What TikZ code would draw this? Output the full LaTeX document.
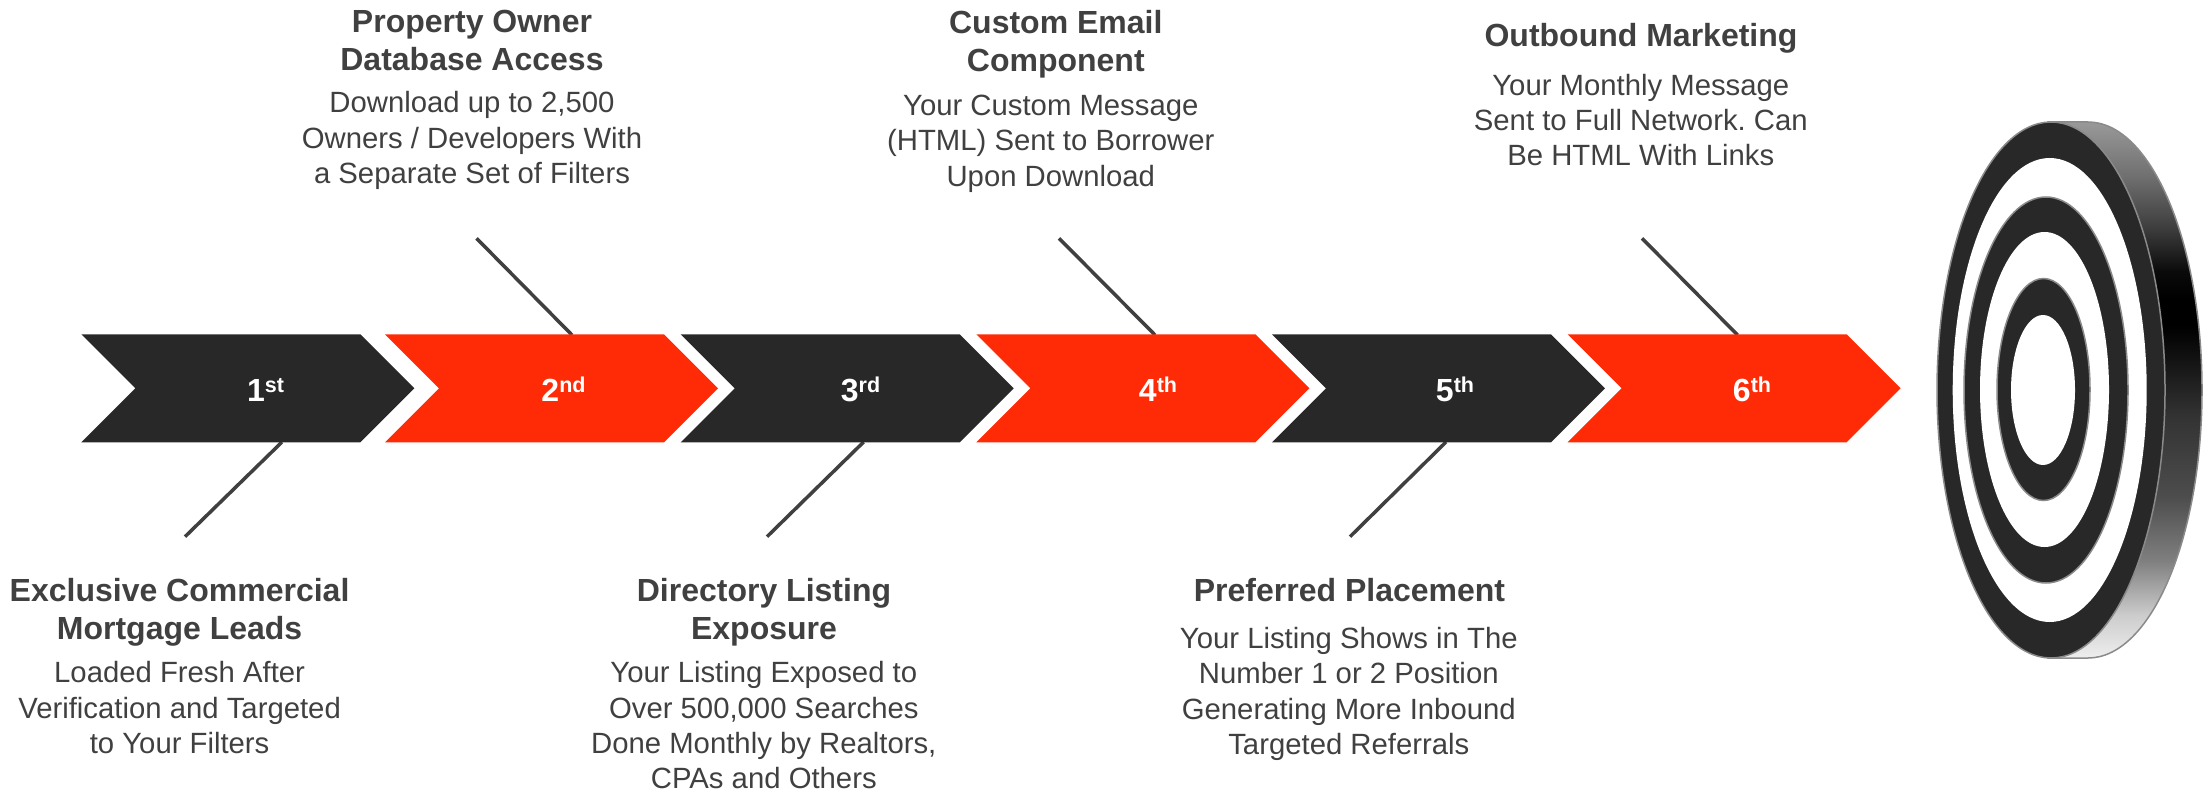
\documentclass[tikz,border=0pt]{standalone}
\usepackage{fontspec}
\setmainfont{Liberation Sans}
\definecolor{dk}{HTML}{282828}
\definecolor{rd}{HTML}{FF2A06}
\definecolor{tx}{HTML}{404040}
\definecolor{rim}{HTML}{8A8A8A}
\definecolor{ga}{HTML}{999999}
\definecolor{gb}{HTML}{707070}
\definecolor{gc}{HTML}{3C3C3C}
\definecolor{gd}{HTML}{0A0A0A}
\definecolor{ge}{HTML}{000000}
\definecolor{gf}{HTML}{333333}
\definecolor{gg}{HTML}{4D4D4D}
\definecolor{gh}{HTML}{808080}
\definecolor{gi}{HTML}{CCCCCC}
\definecolor{gj}{HTML}{EEEEEE}
\newcommand{\sss}[1]{\raisebox{9pt}{\fontsize{21.5}{21.5}\selectfont #1}}
\tikzset{
 x=1pt,y=-1pt,
 numlabel/.style={text=white,font=\fontsize{32}{32}\selectfont\bfseries,anchor=base,inner sep=0pt},
 headtext/.style={text=tx,font=\fontsize{32}{38}\selectfont\bfseries\frenchspacing,align=center,anchor=north,inner sep=0pt},
 bodytext/.style={text=tx,font=\fontsize{29.3}{35.2}\selectfont\frenchspacing,align=center,anchor=north,inner sep=0pt},
 leader/.style={draw=tx,line width=3.5pt},
 ringdark/.style={fill=dk,draw=rim,line width=1.5pt},
 ringwhite/.style={fill=white},
}
\newcommand{\hs}{\rule{0pt}{22pt}}
\newcommand{\bandpath}{(2088,122) arc [start angle=-90,end angle=90,x radius=114,y radius=268] -- (2048,658) -- (2048,122) -- cycle}
\begin{document}
\begin{tikzpicture}
\useasboundingbox (0,0) rectangle (2208,794);
% connectors (under the arrows)
\coordinate (a1) at (282,442); \coordinate (e1) at (185,536.7);
\coordinate (a2) at (572,335); \coordinate (e2) at (476.5,238.3);
\coordinate (a3) at (863.6,442); \coordinate (e3) at (767,536.7);
\coordinate (a4) at (1155,335); \coordinate (e4) at (1059,238.3);
\coordinate (a5) at (1446,442); \coordinate (e5) at (1350,536.7);
\coordinate (a6) at (1737.5,335); \coordinate (e6) at (1642,238.3);
\foreach \i in {1,...,6} \draw[leader] (a\i) -- (e\i);
% arrows
\fill[dk] (81.4,334.3) -- (360.4,334.3) -- (414.4,388.3) -- (360.4,442.3) -- (81.4,442.3) -- (135.4,388.3) -- cycle;
\fill[rd] (385,334.3) -- (664,334.3) -- (718,388.3) -- (664,442.3) -- (385,442.3) -- (439,388.3) -- cycle;
\fill[dk] (680.7,334.3) -- (959.7,334.3) -- (1013.7,388.3) -- (959.7,442.3) -- (680.7,442.3) -- (734.7,388.3) -- cycle;
\fill[rd] (976.4,334.3) -- (1255.4,334.3) -- (1309.4,388.3) -- (1255.4,442.3) -- (976.4,442.3) -- (1030.4,388.3) -- cycle;
\fill[dk] (1272,334.3) -- (1551,334.3) -- (1605,388.3) -- (1551,442.3) -- (1272,442.3) -- (1326,388.3) -- cycle;
\fill[rd] (1567.6,334.3) -- (1846.6,334.3) -- (1900.6,388.3) -- (1846.6,442.3) -- (1567.6,442.3) -- (1621.6,388.3) -- cycle;
\node[numlabel] (n1) at (265.5,401.7) {1\sss{st}};
\node[numlabel] (n2) at (563.5,401.7) {2\sss{nd}};
\node[numlabel] (n3) at (860.5,401.7) {3\sss{rd}};
\node[numlabel] (n4) at (1158,401.7) {4\sss{th}};
\node[numlabel] (n5) at (1455,401.7) {5\sss{th}};
\node[numlabel] (n6) at (1752,401.7) {6\sss{th}};
% target
\begin{scope}
\clip \bandpath;
\foreach \ya/\ca/\yb/\cb in {122/ga/175.6/gb,175.6/gb/229/gc,229/gc/272/gd,272/gd/299/ge,299/ge/326/ge,326/ge/417/gf,417/gf/497/gg,497/gg/561.5/gh,561.5/gh/615/gi,615/gi/658/gj}
  \shade[top color=\ca,bottom color=\cb] (2040,\ya) rectangle (2210,\yb);
\end{scope}
\draw[rim,line width=1.5pt] \bandpath;
\draw[ringdark] (2051,390) ellipse [x radius=114,y radius=268];
\fill[ringwhite] (2049.7,390) ellipse [x radius=97,y radius=232];
\draw[ringdark] (2046,390) ellipse [x radius=82,y radius=193];
\fill[ringwhite] (2044.5,389.5) ellipse [x radius=64.5,y radius=157.5];
\draw[ringdark] (2043.5,389.5) ellipse [x radius=46.5,y radius=111];
\fill[ringwhite] (2043,390) ellipse [x radius=32,y radius=75];
% texts
\node[headtext] (h1) at (179.6,578.2) {\hs Exclusive Commercial\\Mortgage Leads};
\node[bodytext] (b1) at (179.6,660.7) {\hs Loaded Fresh After\\Verification and Targeted\\to Your Filters};
\node[headtext] (h2) at (472,9.7) {\hs Property Owner\\Database Access};
\node[bodytext] (b2) at (472,90.7) {\hs Download up to 2,500\\Owners / Developers With\\a Separate Set of Filters};
\node[headtext] (h3) at (764,578) {\hs Directory Listing\\Exposure};
\node[bodytext] (b3) at (763.8,660.7) {\hs Your Listing Exposed to\\Over 500,000 Searches\\Done Monthly by Realtors,\\CPAs and Others};
\node[headtext] (h4) at (1055.8,9.7) {\hs Custom Email\\Component};
\node[bodytext] (b4) at (1050.8,93.5) {\hs Your Custom Message\\(HTML) Sent to Borrower\\Upon Download};
\node[headtext] (h5) at (1349.5,578) {\hs Preferred Placement};
\node[bodytext] (b5) at (1348.8,626.5) {\hs Your Listing Shows in The\\Number 1 or 2 Position\\Generating More Inbound\\Targeted Referrals};
\node[headtext] (h6) at (1641,23) {\hs Outbound Marketing};
\node[bodytext] (b6) at (1640.8,73) {\hs Your Monthly Message\\Sent to Full Network. Can\\Be HTML With Links};
\end{tikzpicture}
\end{document}
